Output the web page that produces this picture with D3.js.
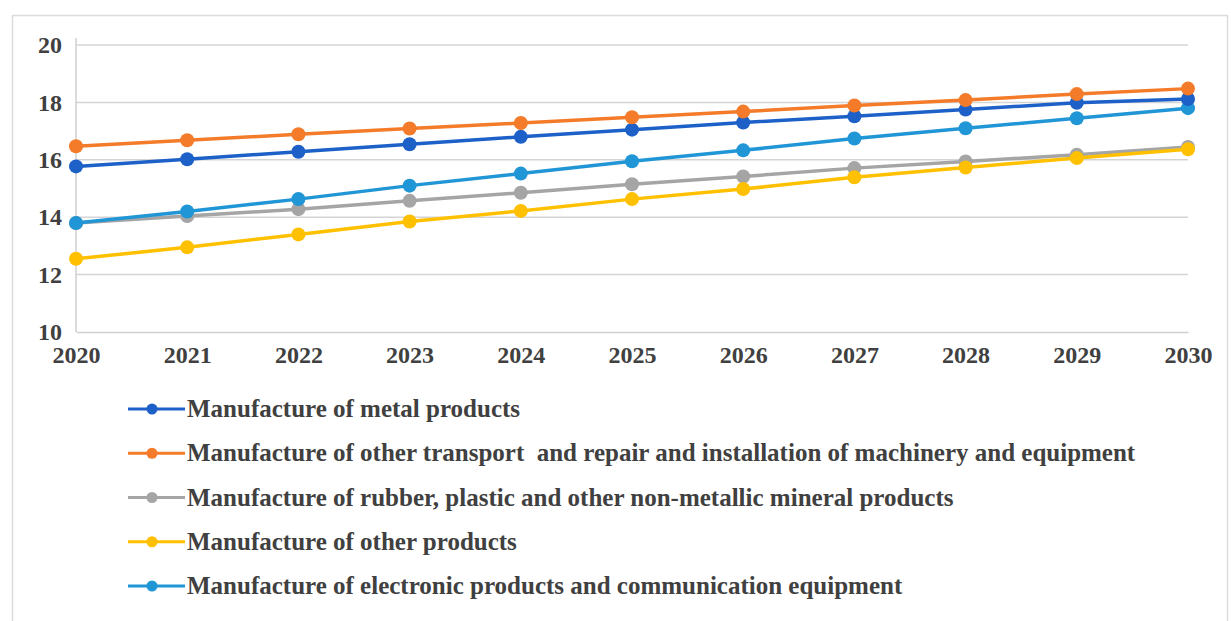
<!DOCTYPE html>
<html><head><meta charset="utf-8">
<script src="https://cdn.jsdelivr.net/npm/d3@7"></script>
<style>body{margin:0;background:#fff;} svg{display:block;}</style>
</head><body>
<svg id="c" width="1231" height="621"></svg>
<script>
const years = [2020,2021,2022,2023,2024,2025,2026,2027,2028,2029,2030];
const yTicks = [10,12,14,16,18,20];
const seriesNames = [
  "Manufacture of metal products",
  "Manufacture of other transport  and repair and installation of machinery and equipment",
  "Manufacture of rubber, plastic and other non-metallic mineral products",
  "Manufacture of other products",
  "Manufacture of electronic products and communication equipment"
];
const metal = [15.77,16.02,16.28,16.54,16.80,17.05,17.30,17.52,17.75,17.99,18.12];
const transport = [16.47,16.68,16.89,17.09,17.28,17.48,17.68,17.89,18.08,18.29,18.48];
const rubber = [13.80,14.04,14.28,14.57,14.85,15.15,15.42,15.71,15.94,16.18,16.45];
const otherProducts = [12.55,12.95,13.40,13.85,14.22,14.63,14.98,15.39,15.73,16.06,16.37];
const electronic = [13.80,14.20,14.63,15.10,15.52,15.95,16.33,16.74,17.10,17.45,17.80];
const colors = ["#1c60c8","#f47b2a","#a5a5a5","#ffc000","#2196d6"];

const seriesData = [metal, transport, rubber, otherProducts, electronic];
const drawOrder = [2,3,4,0,1];

const svg = d3.select("#c");
const FONT = "'Liberation Serif', 'Times New Roman', serif";
svg.append("rect").attr("x",12.5).attr("y",15.5).attr("width",1215).attr("height",620)
  .attr("fill","none").attr("stroke","#dcdcdc").attr("stroke-width",1.5);

const x = d3.scaleLinear().domain([2020,2030]).range([76,1188]);
const y = d3.scaleLinear().domain([10,20]).range([332,45]);

svg.append("g").selectAll("line").data(yTicks.filter(t=>t>10)).join("line")
  .attr("x1",76).attr("x2",1188).attr("y1",d=>y(d)).attr("y2",d=>y(d))
  .attr("stroke","#d4d4d4").attr("stroke-width",1.5);

const yAxis = d3.axisLeft(y).tickValues(yTicks).tickSize(0).tickPadding(14).tickFormat(d3.format("d"));
const gy = svg.append("g").attr("transform","translate(76,0)").call(yAxis);
gy.select(".domain").attr("stroke","#cfcfcf").attr("stroke-width",1.5).attr("d","M0,38V332");
gy.selectAll("text").attr("font-family",FONT).attr("font-weight","bold")
  .attr("font-size",24).attr("fill","#404040").attr("dy","0.32em");

const xAxis = d3.axisBottom(x).tickValues(years).tickSize(0).tickPadding(14).tickFormat(d3.format("d"));
const gx = svg.append("g").attr("transform","translate(0,332)").call(xAxis);
gx.select(".domain").attr("stroke","#cfcfcf").attr("stroke-width",1.5);
gx.selectAll("text").attr("font-family",FONT).attr("font-weight","bold")
  .attr("font-size",24).attr("fill","#404040");

const line = d3.line().x((d,i)=>x(years[i])).y(d=>y(d));
drawOrder.forEach(k=>{
  const g = svg.append("g");
  g.append("path").datum(seriesData[k]).attr("d",line).attr("fill","none")
    .attr("stroke",colors[k]).attr("stroke-width",3.5);
  g.selectAll("circle").data(seriesData[k]).join("circle")
    .attr("cx",(d,i)=>x(years[i])).attr("cy",d=>y(d)).attr("r",7).attr("fill",colors[k]);
});

const leg = svg.append("g");
const legY = d3.scalePoint().domain(d3.range(5)).range([409,586]);
seriesNames.forEach((name,k)=>{
  const cy = legY(k);
  leg.append("line").attr("x1",128).attr("x2",185).attr("y1",cy).attr("y2",cy)
    .attr("stroke",colors[k]).attr("stroke-width",3);
  leg.append("circle").attr("cx",152).attr("cy",cy).attr("r",5.5).attr("fill",colors[k]);
  leg.append("text").attr("x",187).attr("y",cy+8).text(name)
    .attr("font-family",FONT).attr("font-weight","bold")
    .attr("font-size",25).attr("fill","#404040").style("white-space","pre");
});
</script>
</body></html>
